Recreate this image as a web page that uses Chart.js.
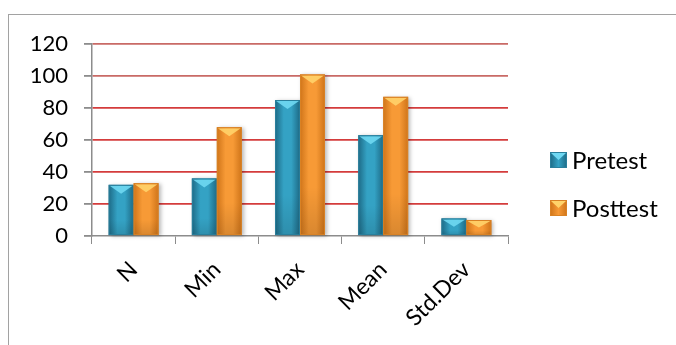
<!DOCTYPE html>
<html>
<head>
<meta charset="utf-8">
<script src="https://cdn.jsdelivr.net/npm/chart.js@4/dist/chart.umd.min.js"></script>
<style>
  html, body { margin: 0; padding: 0; background: #ffffff; }
  #wrap { position: relative; width: 676px; height: 345px; overflow: hidden; }
  #frame { position: absolute; left: 8px; top: 14px; width: 760px; height: 420px; border: 1.5px solid #a2a2a2; box-sizing: border-box; }
  #c { position: absolute; left: 0; top: 0; }
</style>
</head>
<body>
<div id="wrap">
  <div id="frame"></div>
  <canvas id="c" width="676" height="345"></canvas>
</div>
<script>
// Descriptive statistics, before and after the course
const categories = ['N', 'Min', 'Max', 'Mean', 'Std.Dev'];
const pretest = [32, 36, 85, 63, 11];
const posttest = [33, 68, 101, 87, 10];
const seriesNames = ['Pretest', 'Posttest'];
const yTicks = [0, 20, 40, 60, 80, 100, 120];

const FONT = 'Lato, "Noto Sans", sans-serif';

// colour sets for the bevelled bars
const palettes = [
  { edge: '#1d6a86', mid: '#34a2c4', light: '#6fd8f2', border: '#2a7f9c' },
  { edge: '#cf7419', mid: '#f79a36', light: '#ffd36a', border: '#d98225' }
];

// paints a bevelled, shaded look on top of each bar the library placed
const bevelBars = {
  id: 'bevelBars',
  afterDatasetsDraw(chart) {
    const ctx = chart.ctx;
    chart.data.datasets.forEach((ds, di) => {
      const meta = chart.getDatasetMeta(di);
      const p = palettes[di];
      meta.data.forEach(bar => {
        const w = bar.width;
        const x0 = bar.x - w / 2, x1 = bar.x + w / 2;
        const top = bar.y, base = bar.base;
        const h = base - top;
        ctx.save();
        // soft drop shadow
        ctx.shadowColor = 'rgba(0,0,0,0.28)';
        ctx.shadowBlur = 4;
        ctx.shadowOffsetX = 2;
        ctx.shadowOffsetY = 1;
        const g = ctx.createLinearGradient(x0, 0, x1, 0);
        g.addColorStop(0, p.edge);
        g.addColorStop(0.35, p.mid);
        g.addColorStop(0.65, p.mid);
        g.addColorStop(1, p.edge);
        ctx.fillStyle = g;
        ctx.fillRect(x0, top, w, h);
        ctx.restore();

        ctx.save();
        // darker fade toward the base
        const gv = ctx.createLinearGradient(0, top, 0, base);
        gv.addColorStop(0, 'rgba(0,0,0,0)');
        gv.addColorStop(0.7, 'rgba(0,0,0,0)');
        gv.addColorStop(1, 'rgba(0,0,0,0.12)');
        ctx.fillStyle = gv;
        ctx.fillRect(x0, top, w, h);
        // bevel at the top: bright V shape
        const bh = Math.min(9, h * 0.5);
        ctx.fillStyle = p.light;
        ctx.beginPath();
        ctx.moveTo(x0 + 1, top + 1);
        ctx.lineTo(x1 - 1, top + 1);
        ctx.lineTo(bar.x, top + bh);
        ctx.closePath();
        ctx.globalAlpha = 0.9;
        ctx.fill();
        ctx.globalAlpha = 1;
        // outline
        ctx.strokeStyle = p.border;
        ctx.lineWidth = 1;
        ctx.strokeRect(x0 + 0.5, top + 0.5, w - 1, h - 1);
        ctx.restore();
      });
    });
  }
};

// legend drawn at the right of the plot
const sideLegend = {
  id: 'sideLegend',
  afterDraw(chart) {
    const ctx = chart.ctx;
    const rows = [160, 208];
    chart.data.datasets.forEach((ds, i) => {
      const p = palettes[i];
      const cy = rows[i];
      const sx = 550, sy = cy - 8, sw = 17, sh = 16;
      const g = ctx.createLinearGradient(sx, 0, sx + sw, 0);
      g.addColorStop(0, p.edge);
      g.addColorStop(0.5, p.mid);
      g.addColorStop(1, p.edge);
      ctx.save();
      ctx.fillStyle = g;
      ctx.fillRect(sx, sy, sw, sh);
      ctx.fillStyle = p.light;
      ctx.beginPath();
      ctx.moveTo(sx + 1, sy + 1);
      ctx.lineTo(sx + sw - 1, sy + 1);
      ctx.lineTo(sx + sw / 2, sy + 8);
      ctx.closePath();
      ctx.fill();
      ctx.strokeStyle = p.border;
      ctx.strokeRect(sx + 0.5, sy + 0.5, sw - 1, sh - 1);
      ctx.fillStyle = '#000000';
      ctx.font = '24px ' + FONT;
      ctx.textBaseline = 'middle';
      ctx.textAlign = 'left';
      ctx.fillText(ds.label, 572, cy + 1);
      ctx.restore();
    });
  }
};

new Chart(document.getElementById('c'), {
  type: 'bar',
  data: {
    labels: categories,
    datasets: [
      { label: seriesNames[0], data: pretest, backgroundColor: 'rgba(0,0,0,0)' },
      { label: seriesNames[1], data: posttest, backgroundColor: 'rgba(0,0,0,0)' }
    ]
  },
  options: {
    responsive: false,
    animation: false,
    layout: { padding: { top: 44, right: 168, left: 0, bottom: 0 } },
    plugins: { legend: { display: false }, tooltip: { enabled: false } },
    datasets: { bar: { categoryPercentage: 0.6, barPercentage: 1.0 } },
    scales: {
      x: {
        grid: { drawOnChartArea: false, drawTicks: true, tickLength: 8, tickColor: '#8c8c8c' },
        border: { color: '#8c8c8c', width: 1.5 },
        ticks: { minRotation: 45, maxRotation: 45, padding: 12, color: '#000000', font: { family: FONT, size: 23 } },
        afterFit(s) { s.height = 109; }
      },
      y: {
        min: 0,
        max: 120,
        afterBuildTicks(s) { s.ticks = yTicks.map(v => ({ value: v })); },
        grid: {
          color: ctx => {
            if (!ctx.tick || ctx.tick.value === 0) return 'rgba(0,0,0,0)';
            return ctx.tick.value >= 100 ? '#c96a66' : '#d43c3c';
          },
          lineWidth: 1.8,
          tickLength: 8,
          tickColor: '#8c8c8c'
        },
        border: { color: '#8c8c8c', width: 1.5 },
        ticks: { padding: 16, color: '#000000', font: { family: FONT, size: 22 } },
        afterFit(s) { s.width = 92; }
      }
    }
  },
  plugins: [bevelBars, sideLegend]
});
</script>
</body>
</html>
